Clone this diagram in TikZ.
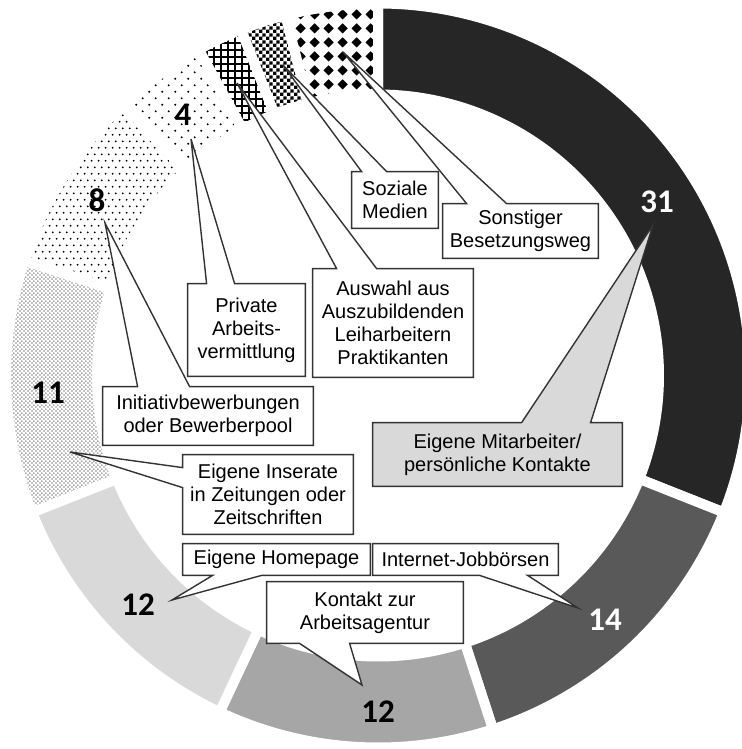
\documentclass[tikz,border=0pt]{standalone}
\usepackage{fontspec}
\setmainfont{Liberation Sans}
\newfontfamily\numfont{Carlito}
\usetikzlibrary{calc,patterns}

\pgfdeclarelayer{ring}
\pgfdeclarelayer{boxes}
\pgfsetlayers{ring,boxes,main}

\definecolor{darkpart}{HTML}{262626}
\definecolor{midpart}{HTML}{595959}
\definecolor{greypart}{HTML}{A6A6A6}
\definecolor{lightpart}{HTML}{D9D9D9}

% fill patterns of the dotted and hatched parts
\pgfdeclarepatternformonly{dotsfour}{\pgfpointorigin}{\pgfpoint{6.7pt}{6.7pt}}{\pgfpoint{6.7pt}{6.7pt}}{%
  \pgfpathcircle{\pgfpoint{1.675pt}{1.675pt}}{0.55pt}%
  \pgfpathcircle{\pgfpoint{5.025pt}{5.025pt}}{0.55pt}%
  \pgfusepath{fill}}
\pgfdeclarepatternformonly{dotseight}{\pgfpointorigin}{\pgfpoint{3.35pt}{6.7pt}}{\pgfpoint{3.35pt}{6.7pt}}{%
  \pgfpathcircle{\pgfpoint{0.84pt}{1.675pt}}{0.52pt}%
  \pgfpathcircle{\pgfpoint{2.51pt}{5.025pt}}{0.52pt}%
  \pgfusepath{fill}}
\pgfdeclarepatternformonly{dotseleven}{\pgfpointorigin}{\pgfpoint{2.2pt}{2.2pt}}{\pgfpoint{2.2pt}{2.2pt}}{%
  \pgfpathcircle{\pgfpoint{0.55pt}{0.55pt}}{0.36pt}%
  \pgfpathcircle{\pgfpoint{1.65pt}{1.65pt}}{0.36pt}%
  \pgfusepath{fill}}
\pgfdeclarepatternformonly{gridlines}{\pgfpointorigin}{\pgfpoint{3.7pt}{3.7pt}}{\pgfpoint{3.7pt}{3.7pt}}{%
  \pgfpathrectangle{\pgfpointorigin}{\pgfpoint{3.7pt}{1pt}}%
  \pgfpathrectangle{\pgfpointorigin}{\pgfpoint{1pt}{3.7pt}}%
  \pgfusepath{fill}}
\pgfdeclarepatternformonly{smallchecks}{\pgfpointorigin}{\pgfpoint{3.4pt}{3.4pt}}{\pgfpoint{3.4pt}{3.4pt}}{%
  \pgfpathrectangle{\pgfpointorigin}{\pgfpoint{1.7pt}{1.7pt}}%
  \pgfpathrectangle{\pgfpoint{1.7pt}{1.7pt}}{\pgfpoint{1.7pt}{1.7pt}}%
  \pgfusepath{fill}}
\pgfdeclarepatternformonly{diamonds}{\pgfpointorigin}{\pgfpoint{7pt}{7pt}}{\pgfpoint{7pt}{7pt}}{%
  \pgfpathmoveto{\pgfpoint{3.5pt}{0.8pt}}%
  \pgfpathlineto{\pgfpoint{6.2pt}{3.5pt}}%
  \pgfpathlineto{\pgfpoint{3.5pt}{6.2pt}}%
  \pgfpathlineto{\pgfpoint{0.8pt}{3.5pt}}%
  \pgfpathclose
  \pgfusepath{fill}}

% callout boxes: #2 box node, #3 tip, #4/#5 pointer base (px from the corner)
\newcommand{\topcallout}[5][]{%
  \draw[cbox,#1] (#2.north west) -- ($(#2.north west)+(#4,0)$) -- (#3)
    -- ($(#2.north west)+(#5,0)$) -- (#2.north east) -- (#2.south east)
    -- (#2.south west) -- cycle;}
\newcommand{\bottomcallout}[5][]{%
  \draw[cbox,#1] (#2.north west) -- (#2.north east) -- (#2.south east)
    -- ($(#2.south west)+(#5,0)$) -- (#3) -- ($(#2.south west)+(#4,0)$)
    -- (#2.south west) -- cycle;}
\newcommand{\leftcallout}[5][]{%
  \draw[cbox,#1] (#2.north west) -- (#2.north east) -- (#2.south east)
    -- (#2.south west) -- ($(#2.north west)+(0,#5)$) -- (#3)
    -- ($(#2.north west)+(0,#4)$) -- cycle;}

\begin{document}
\begin{tikzpicture}[x=0.5pt,y=-0.5pt]
	\tikzstyle{cbox}=[draw=black!80,line width=0.7pt,fill=white,line join=miter]
	\tikzstyle{ctext}=[inner sep=0pt,align=center,font=\fontsize{10}{11.5}\selectfont]
	\tikzstyle{cnum}=[font=\numfont\bfseries\fontsize{16.5}{18}\selectfont]
	\tikzstyle{part}=[draw=white,line width=5pt,pattern color=black]
	\tikzstyle{mitarbpart}=[fill=darkpart]
	\tikzstyle{jobbpart}=[fill=midpart]
	\tikzstyle{agenturpart}=[fill=greypart]
	\tikzstyle{homepart}=[fill=lightpart]
	\tikzstyle{inseratpart}=[pattern=dotseleven]
	\tikzstyle{initpart}=[pattern=dotseight]
	\tikzstyle{privatpart}=[pattern=dotsfour]
	\tikzstyle{auswahlpart}=[pattern=gridlines]
	\tikzstyle{sozialpart}=[pattern=smallchecks]
	\tikzstyle{sonstpart}=[pattern=diamonds]
	\useasboundingbox (0,0) rectangle (742,749);

	\begin{pgfonlayer}{ring}
	\clip (0,0) rectangle (742,749);
	\begin{scope}[shift={(378,375.5)}]
	\foreach \a/\b/\s in {90/-21.6/mitarbpart,-21.6/-72/jobbpart,-72/-115.2/agenturpart,
		-115.2/-158.4/homepart,-158.4/-198/inseratpart,-198/-226.8/initpart,
		-226.8/-241.2/privatpart,-241.2/-248.4/auswahlpart,-248.4/-255.6/sozialpart,
		-255.6/-270/sonstpart}
		\draw[part,\s] (\a:186pt) arc[start angle=\a,end angle=\b,radius=186pt]
			-- (\b:140.5pt) arc[start angle=\b,end angle=\a,radius=140.5pt] -- cycle;
	\end{scope}
	\end{pgfonlayer}

	% values
	\node[cnum,white] (v-mitarb) at (657,202) {31};
	\node[cnum,white] (v-jobb) at (605,620) {14};
	\node[cnum] (v-agentur) at (378,712) {12};
	\node[cnum] (v-home) at (138,605) {12};
	\node[cnum] (v-inserat) at (48,393) {11};
	\node[cnum] (v-init) at (97,200) {8};
	\node[cnum] (v-privat) at (183,115) {4};

	% pointer tips
	\coordinate (t-sozial) at (283,65);
	\coordinate (t-sonst) at (343,52);
	\coordinate (t-auswahl) at (237,83);
	\coordinate (t-privat) at (191,139);
	\coordinate (t-init) at (105,223);
	\coordinate (t-inserat) at (70,452);
	\coordinate (t-mitarb) at (653,225);
	\coordinate (t-home) at (172,600);
	\coordinate (t-jobb) at (578,608);
	\coordinate (t-agentur) at (362,685);

	% labels
	\node[ctext,minimum width=43pt,minimum height=28pt] (sozial) at (395,200) {Soziale\\Medien};
	\node[ctext,minimum width=77.5pt,minimum height=27pt] (sonst) at (520.5,231) {Sonstiger\\Besetzungsweg};
	\node[ctext,minimum width=80pt,minimum height=54pt] (auswahl) at (393,323) {Auswahl aus\\Auszubildenden\\Leiharbeitern\\Praktikanten};
	\node[ctext,minimum width=58.5pt,minimum height=46pt] (privat) at (246.5,330) {Private\\Arbeits-\\vermittlung};
	\node[ctext,minimum width=105pt,minimum height=29pt] (init) at (208,416) {Initiativbewerbungen\\oder Bewerberpool};
	\node[ctext,minimum width=85pt,minimum height=39.5pt] (inserat) at (268,494.5) {Eigene Inserate\\in Zeitungen oder\\Zeitschriften};
	\node[ctext,minimum width=124.5pt,minimum height=31.5pt] (mitarb) at (497.5,454.5) {Eigene Mitarbeiter/\\persönliche Kontakte};
	\node[ctext,minimum width=93.5pt,minimum height=15.5pt] (home) at (276.5,559.5) {Eigene Homepage};
	\node[ctext,minimum width=92.5pt,minimum height=15.5pt] (jobb) at (465.5,559.5) {Internet-Jobbörsen};
	\node[ctext,minimum width=98pt,minimum height=30.5pt] (agentur) at (365,612.5) {Kontakt zur\\Arbeitsagentur};

	\begin{pgfonlayer}{boxes}
	\topcallout{sozial}{t-sozial}{10}{35}
	\topcallout{sonst}{t-sonst}{24}{64}
	\topcallout{auswahl}{t-auswahl}{24}{64}
	\topcallout{privat}{t-privat}{19}{47}
	\topcallout{init}{t-init}{35}{87}
	\leftcallout{inserat}{t-inserat}{13}{33}
	\topcallout[fill=lightpart]{mitarb}{t-mitarb}{149}{218}
	\bottomcallout{home}{t-home}{30}{79}
	\bottomcallout{jobb}{t-jobb}{107}{155}
	\bottomcallout{agentur}{t-agentur}{33}{83}
	\end{pgfonlayer}
\end{tikzpicture}
\end{document}
